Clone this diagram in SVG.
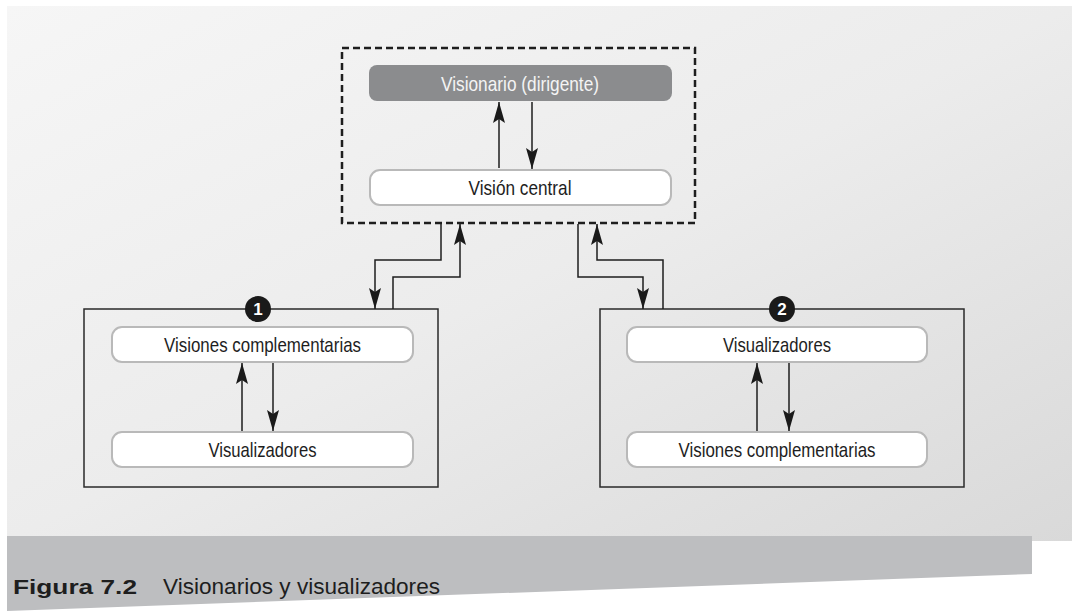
<svg xmlns="http://www.w3.org/2000/svg" width="1075" height="611" viewBox="0 0 1075 611">
  <defs>
    <linearGradient id="bg" x1="0" y1="0" x2="1" y2="1">
      <stop offset="0" stop-color="#f6f6f6"/>
      <stop offset="0.5" stop-color="#ececec"/>
      <stop offset="1" stop-color="#d9d9d9"/>
    </linearGradient>
    <marker id="ah" markerUnits="userSpaceOnUse" markerWidth="22" markerHeight="14" viewBox="0 -7 22 14" refX="21" refY="0" orient="auto">
      <path d="M0,-6 L21,0 L0,6 L4,0 z" fill="#1a1a1a"/>
    </marker>
  </defs>
  <style>
    .panel { fill: url(#bg); }
    .band { fill: #bdbec0; }
    .frame { fill: none; stroke: #2a2a2a; stroke-width: 1.5; }
    .dash { fill: none; stroke: #1e1e1e; stroke-width: 2.5; stroke-dasharray: 7 4; }
    .wbox { fill: #ffffff; stroke: #b9b9b9; stroke-width: 2; }
    .gbox { fill: #8b8c8e; }
    .lbl { font-family: "Liberation Sans", Arial, sans-serif; font-size: 21px; fill: #1e1e1e; text-anchor: middle; }
    .lblw { fill: #f4f4f4; }
    .badge { fill: #1a1a1a; }
    .btxt { font-family: "Liberation Sans", Arial, sans-serif; font-size: 17px; font-weight: bold; fill: #ffffff; text-anchor: middle; }
    .conn { fill: none; stroke: #1e1e1e; stroke-width: 1.5; marker-end: url(#ah); }
    .cap1 { font-family: "Liberation Sans", Arial, sans-serif; font-size: 21px; font-weight: bold; fill: #1e1e1e; }
    .cap2 { font-family: "Liberation Sans", Arial, sans-serif; font-size: 22px; fill: #1e1e1e; }
  </style>

  <rect class="panel" x="7" y="6" width="1065" height="535"/>
  <polygon class="band" points="7,536 1032,536 1032,574 7,611"/>
  <text class="cap1" x="13" y="594" textLength="124" lengthAdjust="spacingAndGlyphs">Figura 7.2</text>
  <text class="cap2" x="163" y="594" textLength="277" lengthAdjust="spacingAndGlyphs">Visionarios y visualizadores</text>

  <g id="central">
    <rect class="dash" x="342" y="48" width="353" height="175"/>
  </g>
  <g id="visionario">
    <rect class="gbox" x="369" y="65" width="303" height="36" rx="8"/>
    <text class="lbl lblw" x="520" y="90.5" textLength="158" lengthAdjust="spacingAndGlyphs">Visionario (dirigente)</text>
  </g>
  <g id="vision-central">
    <rect class="wbox" x="370" y="170" width="301" height="35" rx="10"/>
    <text class="lbl" x="520" y="195" textLength="103" lengthAdjust="spacingAndGlyphs">Visión central</text>
  </g>

  <g id="grupo1">
    <rect class="frame" x="84" y="309" width="354" height="178"/>
    <circle class="badge" cx="258" cy="309" r="13"/>
    <text class="btxt" x="258" y="315">1</text>
  </g>
  <g id="g1-visiones">
    <rect class="wbox" x="112" y="327" width="301" height="35" rx="10"/>
    <text class="lbl" x="262.5" y="352" textLength="197" lengthAdjust="spacingAndGlyphs">Visiones complementarias</text>
  </g>
  <g id="g1-visualizadores">
    <rect class="wbox" x="112" y="432" width="301" height="35" rx="10"/>
    <text class="lbl" x="262.5" y="457" textLength="108" lengthAdjust="spacingAndGlyphs">Visualizadores</text>
  </g>

  <g id="grupo2">
    <rect class="frame" x="600" y="309" width="364" height="178"/>
    <circle class="badge" cx="782" cy="309" r="13"/>
    <text class="btxt" x="782" y="315">2</text>
  </g>
  <g id="g2-visualizadores">
    <rect class="wbox" x="627" y="327" width="300" height="35" rx="10"/>
    <text class="lbl" x="777" y="352" textLength="108" lengthAdjust="spacingAndGlyphs">Visualizadores</text>
  </g>
  <g id="g2-visiones">
    <rect class="wbox" x="627" y="432" width="300" height="35" rx="10"/>
    <text class="lbl" x="777" y="457" textLength="197" lengthAdjust="spacingAndGlyphs">Visiones complementarias</text>
  </g>

  <g id="connectors">
    <path class="conn" d="M499,168 V102"/>
    <path class="conn" d="M532,102 V169"/>
    <path class="conn" d="M441,224 V260 H375 V309"/>
    <path class="conn" d="M393,309 V277 H460 V224"/>
    <path class="conn" d="M578,224 V277 H643 V309"/>
    <path class="conn" d="M663,309 V260 H597 V224"/>
    <path class="conn" d="M242,431 V363"/>
    <path class="conn" d="M273,363 V431"/>
    <path class="conn" d="M757,431 V363"/>
    <path class="conn" d="M789,363 V431"/>
  </g>
</svg>
